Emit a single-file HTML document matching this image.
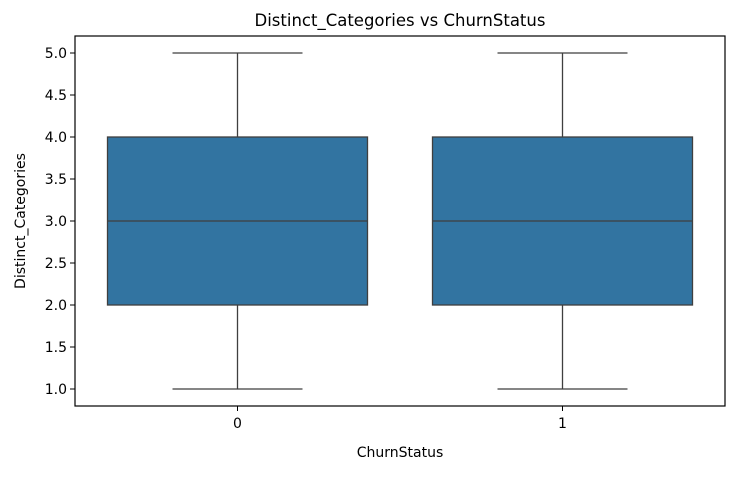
<!DOCTYPE html>
<html><head><meta charset="utf-8"><style>
body{margin:0;background:#fff;}
svg text{font-family:"DejaVu Sans","Liberation Sans",sans-serif;fill:#000;}
</style></head><body>
<svg width="737" height="472">
<g id="g"></g>
</svg>
<script>
const categories=["0","1"];
const q1=[2,2];
const medians=[3,3];
const q3=[4,4];
const whiskLo=[1,1];
const whiskHi=[5,5];
const yTicks=[1.0,1.5,2.0,2.5,3.0,3.5,4.0,4.5,5.0];
const L=75,R=725,T=36,B=406;
const y=v=>389-(v-1)*84;
const bw=(R-L)/categories.length;
const x=i=>L+bw*(i+0.5);
const g=document.getElementById('g');
const NS='http://www.w3.org/2000/svg';
function mk(t,a,txt){const e=document.createElementNS(NS,t);for(const k in a)e.setAttribute(k,a[k]);if(txt!==undefined)e.textContent=txt;g.appendChild(e);return e;}
yTicks.forEach(v=>{
 let l=mk('line',{x1:L-5,x2:L,y1:y(v),y2:y(v),stroke:'#000'});
 
 
 let t=mk('text',{x:L-8,y:y(v)+5,'text-anchor':'end','font-size':14},v.toFixed(1));
 
 
});
categories.forEach((c,i)=>{
 const cx=x(i),hw=bw*0.4;
 let w1=mk('line',{x1:cx,x2:cx,y1:y(whiskHi[i]),y2:y(q3[i]),stroke:'#3f3f3f','stroke-width':1.3});
 
 
 let w2=mk('line',{x1:cx,x2:cx,y1:y(q1[i]),y2:y(whiskLo[i]),stroke:'#3f3f3f','stroke-width':1.3});
 
 
 [whiskHi[i],whiskLo[i]].forEach(v=>{
  let cap=mk('line',{x1:cx-hw/2,x2:cx+hw/2,y1:y(v),y2:y(v),stroke:'#3f3f3f','stroke-width':1.3});
  
  
 });
 let b=mk('rect',{x:cx-hw,y:y(q3[i]),width:2*hw,height:y(q1[i])-y(q3[i]),fill:'#3274a1',stroke:'#3f3f3f','stroke-width':1.3});
 
 
 let m=mk('line',{x1:cx-hw,x2:cx+hw,y1:y(medians[i]),y2:y(medians[i]),stroke:'#3f3f3f','stroke-width':1.3});
 
 
 let tk=mk('line',{x1:cx,x2:cx,y1:B,y2:B+5,stroke:'#000'});
 
 
 let tl=mk('text',{x:cx,y:B+22,'text-anchor':'middle','font-size':14},c);
 
 
});
let fr=mk('rect',{x:L,y:T,width:R-L,height:B-T,fill:'none',stroke:'#000','stroke-width':1.2});


let ti=mk('text',{x:(L+R)/2,y:26,'text-anchor':'middle','font-size':16.5},'Distinct_Categories vs ChurnStatus');


let xt=mk('text',{x:(L+R)/2,y:457,'text-anchor':'middle','font-size':14},'ChurnStatus');


let yt=mk('text',{x:0,y:0,'text-anchor':'middle','font-size':14,transform:'translate(25,221) rotate(-90)'},'Distinct_Categories');


</script>
</body></html>
